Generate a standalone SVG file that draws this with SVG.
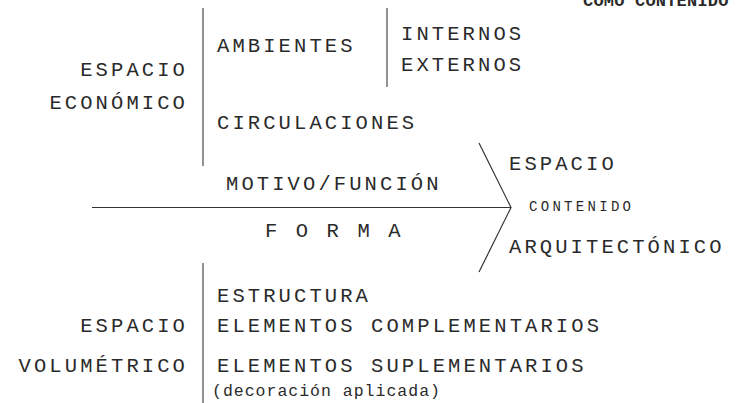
<svg xmlns="http://www.w3.org/2000/svg" width="744" height="403" viewBox="0 0 744 403">
<style>
text{font-family:"Liberation Mono","Courier New",monospace;fill:#2a2a2a;}
.t{font-size:20.5px;letter-spacing:3.1px;}
.s{font-size:14px;letter-spacing:3.3px;}
.d{font-size:16.5px;letter-spacing:1px;}
.e{text-anchor:end;}
.v{stroke:#6e6e6e;stroke-width:1.5;fill:none;}
.k{stroke:#333;stroke-width:1.2;fill:none;}
</style>
<rect width="744" height="403" fill="#fff"/>
<g id="connectors">
<line class="v" x1="203" y1="8" x2="203" y2="166"/>
<line class="v" x1="387" y1="8" x2="387" y2="87"/>
<line class="v" x1="203" y1="263" x2="203" y2="403"/>
<line class="k" x1="92" y1="207.5" x2="511" y2="207.5"/>
<polyline class="k" points="479,143 511,207.5 479,272"/>
</g>
<g id="titulo"><text x="583" y="6" style="font-size:17px;font-weight:bold;letter-spacing:0.2px">COMO CONTENIDO</text></g>
<g id="espacio-economico"><text class="t e" x="188" y="76">ESPACIO</text><text class="t e" x="188" y="109">ECONÓMICO</text></g>
<g id="ambientes"><text class="t" x="217" y="52">AMBIENTES</text></g>
<g id="internos-externos"><text class="t" x="401" y="40">INTERNOS</text><text class="t" x="401" y="71">EXTERNOS</text></g>
<g id="circulaciones"><text class="t" x="217" y="129">CIRCULACIONES</text></g>
<g id="motivo"><text class="t" x="226" y="190">MOTIVO/FUNCIÓN</text></g>
<g id="forma"><text class="t" x="265" y="237">F O R M A</text></g>
<g id="espacio-arquitectonico"><text class="t" x="509" y="170">ESPACIO</text><text class="s" x="529" y="211">CONTENIDO</text><text class="t" x="509" y="253">ARQUITECTÓNICO</text></g>
<g id="espacio-volumetrico"><text class="t e" x="188" y="332">ESPACIO</text><text class="t e" x="188" y="372">VOLUMÉTRICO</text></g>
<g id="estructura"><text class="t" x="217" y="302">ESTRUCTURA</text></g>
<g id="complementarios"><text class="t" x="217" y="332">ELEMENTOS COMPLEMENTARIOS</text></g>
<g id="suplementarios"><text class="t" x="217" y="372">ELEMENTOS SUPLEMENTARIOS</text><text class="d" x="212" y="396">(decoración aplicada)</text></g>
</svg>
